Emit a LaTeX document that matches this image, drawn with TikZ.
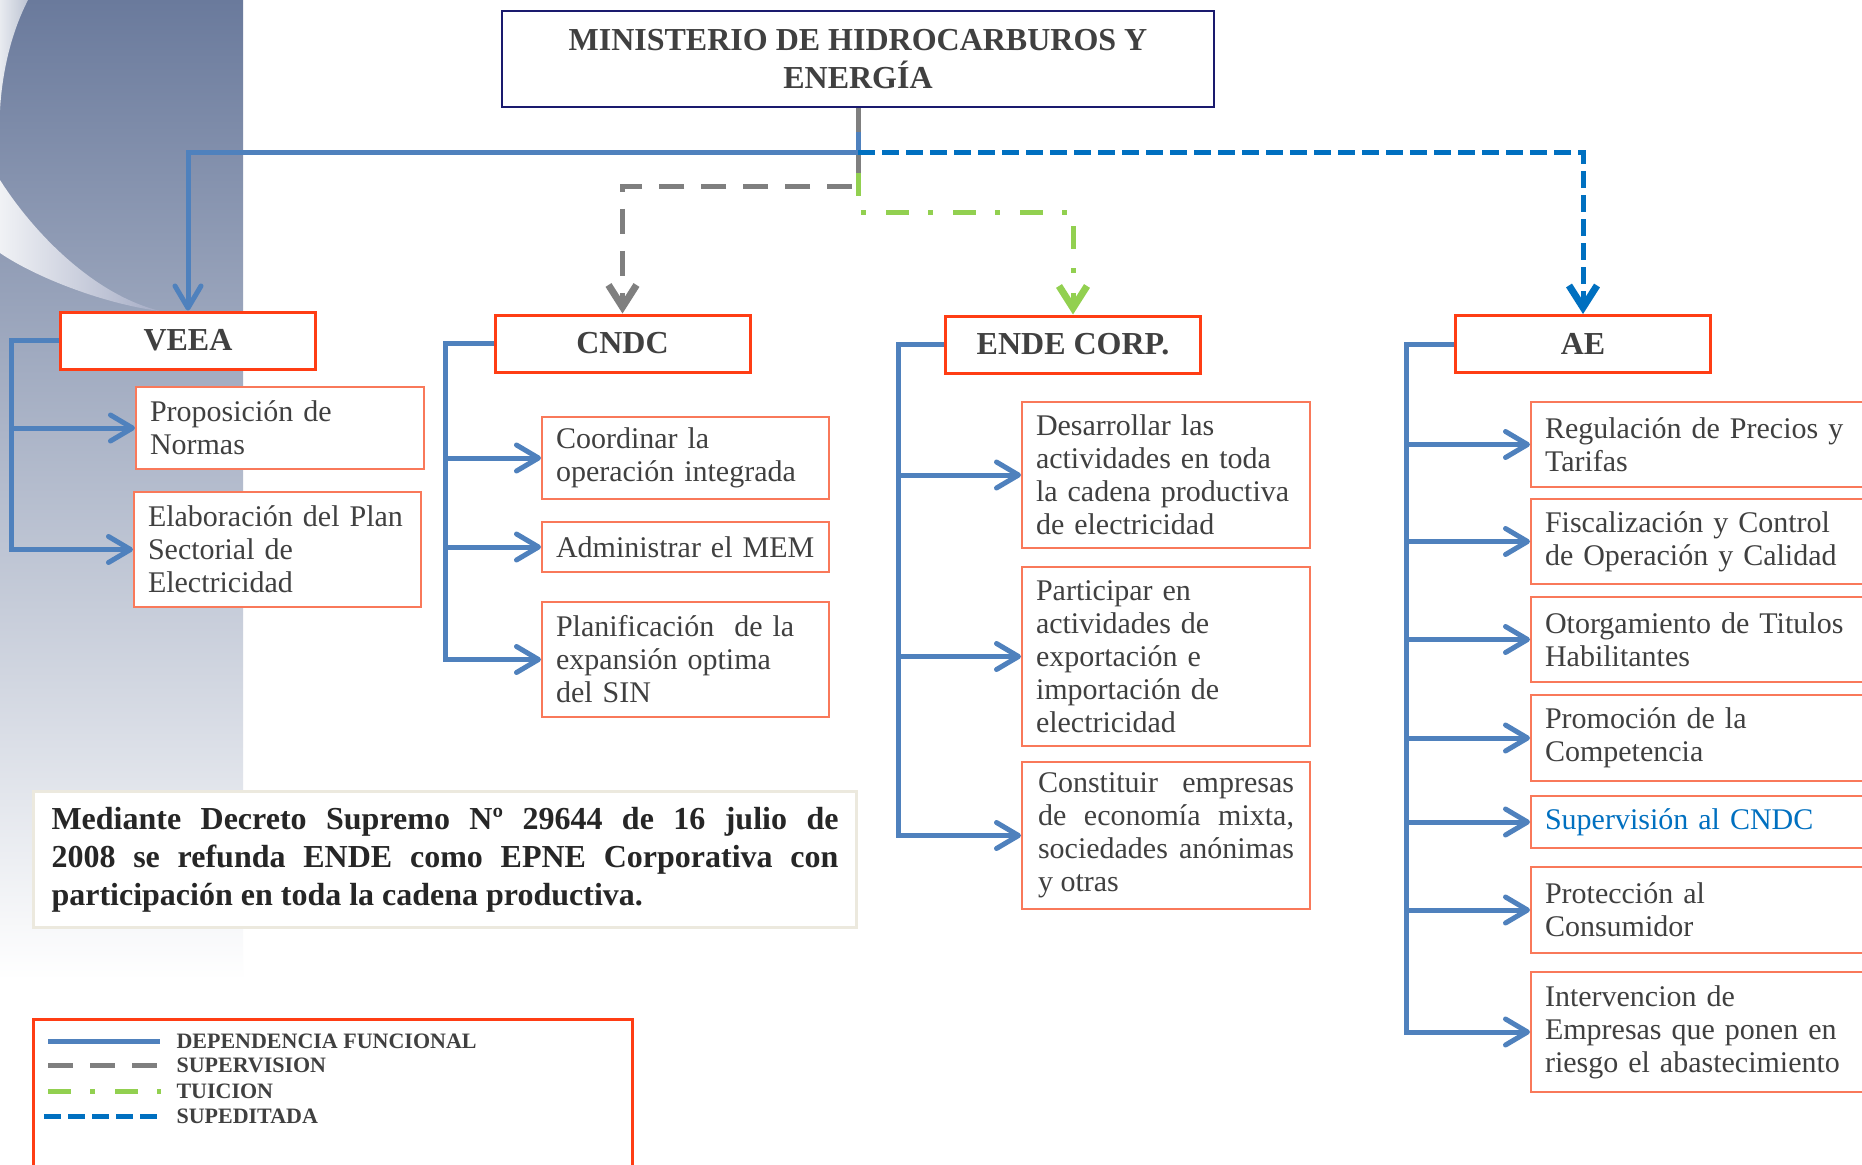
\documentclass[tikz,border=0pt]{standalone}
\usepackage{fontspec}
\setmainfont{Liberation Serif}
\usetikzlibrary{arrows.meta}

\definecolor{txtgray}{HTML}{404040}
\definecolor{boxred}{HTML}{FF3D14}
\definecolor{subred}{HTML}{F9795A}
\definecolor{titlenavy}{HTML}{1A1A6E}
\definecolor{funcblue}{HTML}{4F81BD}
\definecolor{supblue}{HTML}{0070C0}
\definecolor{supgray}{HTML}{7F7F7F}
\definecolor{tuigreen}{HTML}{92D050}
\definecolor{panelblue}{RGB}{106,122,156}
\definecolor{panelmid}{RGB}{165,172,197}
\definecolor{infoborder}{HTML}{ECE9DE}

\tikzset{
  mainbox/.style={draw=boxred, line width=3pt, fill=white, minimum width=255pt, minimum height=57pt,
    text=txtgray, font=\fontsize{32}{38}\selectfont\bfseries},
  subbox/.style={draw=subred, line width=2pt, fill=white, anchor=north west, align=left,
    inner xsep=14pt, inner ysep=4pt, text=txtgray, font=\fontsize{30}{33}\selectfont},
  funcional/.style={draw=funcblue, line width=5pt},
  supervision/.style={draw=supgray, line width=5pt, dash pattern=on 25pt off 17pt},
  tuicion/.style={draw=tuigreen, line width=5pt, dash pattern=on 23pt off 19pt on 5pt off 20pt},
  supeditada/.style={draw=supblue, line width=5pt, dash pattern=on 17pt off 7pt},
  downtip/.style={-{Straight Barb[length=22pt,width=28pt,line width=7pt]}},
  leyendatext/.style={anchor=west, text=txtgray, font=\fontsize{22}{24}\selectfont\bfseries},
}

\begin{document}
\begin{tikzpicture}[x=1pt,y=-1pt,>={Straight Barb[length=22pt,width=26pt,round]}]
  \useasboundingbox (0,0) rectangle (1862,1164);
  \clip (0,0) rectangle (1862,1164);
  \fill[white] (0,0) rectangle (1862,1164);
  % side panel
  \shade[top color=panelblue, middle color=panelmid, bottom color=white] (0,0) rectangle (243,980);
  \shade[left color=white!85!panelblue, right color=white!55!panelblue] (0,0) -- (28,0) .. controls (10,35) and (2,75) .. (0,110) -- cycle;
  \shade[left color=white!90!panelblue, right color=panelmid] (0,180) .. controls (35,235) and (95,295) .. (160,311) .. controls (110,305) and (40,280) .. (0,253) -- cycle;

  \node[draw=titlenavy, line width=2.5pt, fill=white, minimum width=712pt, minimum height=96pt, align=center,
    text=txtgray, font=\fontsize{32}{38}\selectfont\bfseries] (ministerio) at (858,59) {MINISTERIO DE HIDROCARBUROS Y\\ENERGÍA};

  \node[mainbox] (veea) at (188,340.5) {VEEA};
  \node[mainbox] (cndc) at (622.5,343.5) {CNDC};
  \node[mainbox] (ende) at (1073,344.5) {ENDE CORP.};
  \node[mainbox] (ae) at (1583,344) {AE};

  \node[subbox, text width=260pt, minimum height=82pt] (veea1) at (135,386) {Proposición de\\Normas};
  \node[subbox, text width=259pt, minimum height=115pt] (veea2) at (133,491) {Elaboración del Plan\\Sectorial de\\Electricidad};

  \node[subbox, text width=259pt, minimum height=82pt] (cndc1) at (541,416) {Coordinar la\\operación integrada};
  \node[subbox, text width=259pt, minimum height=50pt] (cndc2) at (541,521) {Administrar el MEM};
  \node[subbox, text width=259pt, minimum height=115pt] (cndc3) at (541,601) {Planificación\ \ de la\\expansión optima\\del SIN};

  \node[subbox, text width=260pt, minimum height=146pt] (ende1) at (1021,401) {Desarrollar las\\actividades en toda\\la cadena productiva\\de electricidad};
  \node[subbox, text width=260pt, minimum height=179pt] (ende2) at (1021,566) {Participar en\\actividades de\\exportación e\\importación de\\electricidad};
  \node[subbox, text width=256pt, inner xsep=16pt, minimum height=147pt, align=justify] (ende3) at (1021,761) {Constituir empresas\linebreak de economía mixta,\linebreak sociedades anónimas\linebreak y otras};

  \node[subbox, text width=322pt, minimum height=85pt] (ae1) at (1530,401) {Regulación de Precios y\\Tarifas};
  \node[subbox, text width=322pt, minimum height=85pt] (ae2) at (1530,498) {Fiscalización y Control\\de Operación y Calidad};
  \node[subbox, text width=322pt, minimum height=85pt] (ae3) at (1530,596) {Otorgamiento de Titulos\\Habilitantes};
  \node[subbox, text width=322pt, minimum height=86pt] (ae4) at (1530,694) {Promoción de la\\Competencia};
  \node[subbox, text width=322pt, minimum height=52pt, text=supblue] (ae5) at (1530,795) {Supervisión al CNDC};
  \node[subbox, text width=322pt, minimum height=86pt] (ae6) at (1530,866) {Protección al\\Consumidor};
  \node[subbox, text width=322pt, minimum height=120pt] (ae7) at (1530,971) {Intervencion de\\Empresas que ponen en\\riesgo el abastecimiento};

  % lines from the ministry
  \coordinate (stemtop) at (858,132);
  \coordinate (hub) at (858,152);
  \coordinate (greentop) at (858,173);
  \draw[supervision,downtip] (ministerio.south) -- ++(0,78) -| (cndc.north);
  \draw[funcional,->] (stemtop) -- (hub) -| (veea.north);
  \draw[supeditada,downtip] (hub) -| (ae.north);
  \draw[tuicion,downtip] (greentop) -- ++(0,39) -| (ende.north);

  % functions
  \coordinate (veeatrunk) at ([xshift=-48pt]veea.west);
  \draw[funcional,->] (veea.west) -- (veeatrunk) |- (veea2.west);
  \draw[funcional,->] (veeatrunk |- veea1.west) -- (veea1.west);

  \coordinate (cndctrunk) at ([xshift=-48pt]cndc.west);
  \draw[funcional,->] (cndc.west) -- (cndctrunk) |- (cndc3.west);
  \draw[funcional,->] (cndctrunk |- cndc1.west) -- (cndc1.west);
  \draw[funcional,->] (cndctrunk |- cndc2.west) -- (cndc2.west);

  \coordinate (endetrunk) at ([xshift=-46pt]ende.west);
  \draw[funcional,->] (ende.west) -- (endetrunk) |- (ende3.west);
  \draw[funcional,->] (endetrunk |- ende1.west) -- (ende1.west);
  \draw[funcional,->] (endetrunk |- ende2.west) -- (ende2.west);

  \coordinate (aetrunk) at ([xshift=-48pt]ae.west);
  \draw[funcional,->] (ae.west) -- (aetrunk) |- (ae7.west);
  \draw[funcional,->] (aetrunk |- ae1.west) -- (ae1.west);
  \draw[funcional,->] (aetrunk |- ae2.west) -- (ae2.west);
  \draw[funcional,->] (aetrunk |- ae3.west) -- (ae3.west);
  \draw[funcional,->] (aetrunk |- ae4.west) -- (ae4.west);
  \draw[funcional,->] (aetrunk |- ae5.west) -- (ae5.west);
  \draw[funcional,->] (aetrunk |- ae6.west) -- (ae6.west);

  \node[anchor=north west, draw=infoborder, line width=3pt, fill=white, text width=787pt, inner xsep=18pt, inner ysep=0pt,
    minimum height=136pt, align=justify, text=black!85, font=\fontsize{32}{38}\selectfont\bfseries] (decreto) at (32,790)
    {Mediante Decreto Supremo Nº 29644 de 16 julio de\linebreak 2008 se refunda ENDE como EPNE Corporativa con\linebreak participación en toda la cadena productiva.};

  % legend
  \node[draw=boxred, line width=2.5pt, fill=white, anchor=north west, minimum width=599pt, minimum height=200pt] (leyenda) at (32,1018) {};
  \draw[funcional] (48,1041) -- (160,1041);
  \draw[supervision] (48,1065) -- (157,1065);
  \draw[tuicion] (48,1091) -- (161,1091);
  \draw[supeditada] (44,1116) -- (157,1116);
  \node[leyendatext] (lfuncional) at (173,1041) {DEPENDENCIA FUNCIONAL};
  \node[leyendatext] (lsupervision) at (173,1065) {SUPERVISION};
  \node[leyendatext] (ltuicion) at (173,1091) {TUICION};
  \node[leyendatext] (lsupeditada) at (173,1116) {SUPEDITADA};
\end{tikzpicture}
\end{document}
